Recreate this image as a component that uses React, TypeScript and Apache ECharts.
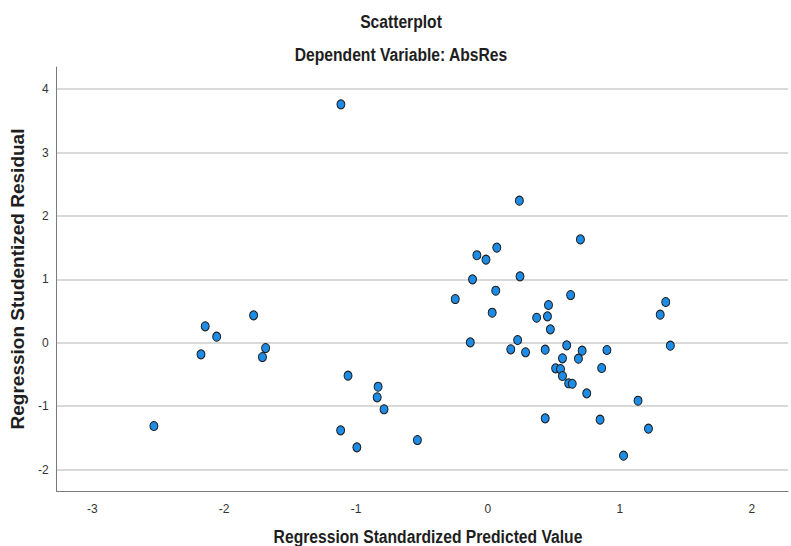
import React, { useEffect, useRef } from "react";
import * as echarts from "echarts";

// Regression standardized predicted value (x) and studentized residual (y)
const predicted: number[] = [
  -2.533, -2.176, -2.144, -2.057, -1.777, -1.686, -1.71, -1.061, -0.833, -0.84,
  -0.788, -1.117, -0.994, -1.115, -0.535,
  0.238, 0.701, 0.067, -0.084, -0.015, -0.117, 0.243, 0.059, 0.627, -0.248,
  0.032, 0.459, 0.369, 0.451, 0.473, 1.348, 1.306, 1.383, -0.134, 0.225,
  0.173, 0.285, 0.434, 0.597, 0.714, 0.902, 0.565, 0.686, 0.513, 0.55,
  0.862, 0.565, 0.612, 0.639, 0.749, 1.138, 0.85, 1.217, 1.028, 0.434,
];
const residual: number[] = [
  -1.314, -0.183, 0.259, 0.095, 0.432, -0.084, -0.226, -0.52, -0.694, -0.861,
  -1.05, -1.382, -1.65, 3.76, -1.535,
  2.24, 1.63, 1.5, 1.38, 1.31, 1.0, 1.047, 0.82, 0.752, 0.689,
  0.473, 0.595, 0.394, 0.416, 0.211, 0.642, 0.442, -0.047, 0.006, 0.043,
  -0.104, -0.151, -0.11, -0.041, -0.126, -0.115, -0.246, -0.252, -0.404, -0.415,
  -0.399, -0.525, -0.64, -0.647, -0.799, -0.915, -1.214, -1.356, -1.782, -1.193,
];

const chartTitle = "Scatterplot";
const chartSubtitle = "Dependent Variable: AbsRes";
const xAxisName = "Regression Standardized Predicted Value";
const yAxisName = "Regression Studentized Residual";

const SANS = '"Liberation Sans", Arial, sans-serif';
const BOLD18 = `bold 18px ${SANS}`;

const intLabel = (v: number) =>
  Math.abs(v - Math.round(v)) < 1e-6 ? String(Math.round(v)) : "";

export default function App() {
  const ref = useRef<HTMLDivElement>(null);
  useEffect(() => {
    if (!ref.current) return;
    const chart = echarts.init(ref.current, undefined, { renderer: "svg" });
    const points = predicted.map((x, i) => [x, residual[i]]);
    const condensedText = (text: string, x: number, y: number) => ({
      type: "text",
      x,
      y,
      scaleX: 0.87,
      silent: true,
      style: {
        text,
        font: BOLD18,
        fill: "#1e1e1e",
        textAlign: "center",
        textVerticalAlign: "middle",
      },
    });
    chart.setOption({
      animation: false,
      backgroundColor: "#ffffff",
      graphic: [
        condensedText(chartTitle, 401, 22),
        condensedText(chartSubtitle, 401, 55),
        condensedText(xAxisName, 428, 537),
      ],
      grid: { left: 55, top: 67, bottom: 55, right: -10, containLabel: false },
      xAxis: {
        type: "value",
        min: -3.271,
        max: 2.275,
        minInterval: 1,
        maxInterval: 1,
        axisLine: { show: true, onZero: false, lineStyle: { color: "#7a7a7a", width: 1 } },
        axisTick: { show: false },
        splitLine: { show: false },
        axisLabel: {
          formatter: intLabel,
          margin: 12,
          fontFamily: SANS,
          fontSize: 12,
          color: "#333",
        },
      },
      yAxis: {
        type: "value",
        min: -2.339,
        max: 4.349,
        minInterval: 1,
        maxInterval: 1,
        name: yAxisName,
        nameLocation: "middle",
        nameGap: 28,
        nameTextStyle: { fontFamily: SANS, fontSize: 19, fontWeight: "bold", color: "#1e1e1e" },
        axisLine: { show: true, onZero: false, lineStyle: { color: "#7a7a7a", width: 1 } },
        axisTick: { show: false },
        splitLine: {
          show: true,
          showMinLine: false,
          showMaxLine: false,
          lineStyle: { color: "#cdcdcd", width: 1.6 },
        },
        axisLabel: {
          formatter: intLabel,
          margin: 8,
          fontFamily: SANS,
          fontSize: 12,
          color: "#333",
        },
      },
      series: [
        {
          type: "scatter",
          data: points,
          symbol: "circle",
          symbolSize: [8, 9],
          itemStyle: { color: "#1e8be4", borderColor: "#1a1a1a", borderWidth: 1, opacity: 1 },
        },
      ],
    });
    return () => chart.dispose();
  }, []);
  return (
    <div
      ref={ref}
      style={{ position: "fixed", left: 0, top: 0, width: 791, height: 546 }}
    />
  );
}
